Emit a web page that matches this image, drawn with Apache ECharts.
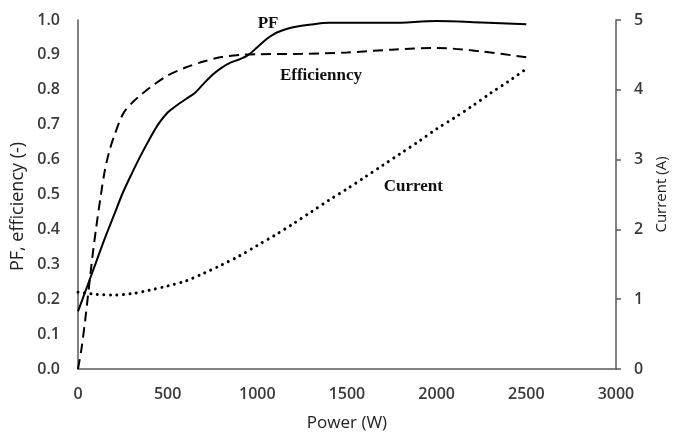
<!DOCTYPE html>
<html>
<head>
<meta charset="utf-8">
<script src="https://cdn.jsdelivr.net/npm/echarts@6/dist/echarts.min.js"></script>
<style>html,body{margin:0;padding:0;background:#fff}#c{width:677px;height:437px}</style>
</head>
<body>
<div id="c"></div>
<script>
const pfPower = [0, 50, 100, 150, 200, 250, 300, 350, 400, 450, 500, 550, 600, 650, 700, 750, 800, 850, 900, 950, 1000, 1050, 1100, 1150, 1200, 1300, 1400, 1500, 1750, 2000, 2250, 2500];
const pfValue = [0.165, 0.235, 0.305, 0.375, 0.44, 0.505, 0.56, 0.612, 0.66, 0.703, 0.735, 0.755, 0.773, 0.79, 0.817, 0.843, 0.863, 0.878, 0.887, 0.9, 0.922, 0.945, 0.962, 0.972, 0.979, 0.987, 0.992, 0.992, 0.992, 0.997, 0.993, 0.988];

const effPower = [0, 20, 40, 60, 80, 100, 125, 150, 175, 200, 250, 300, 350, 400, 500, 600, 700, 800, 900, 1000, 1250, 1500, 1750, 2000, 2250, 2500];
const effValue = [0, 0.06, 0.14, 0.23, 0.32, 0.4, 0.49, 0.57, 0.625, 0.665, 0.73, 0.762, 0.785, 0.806, 0.841, 0.864, 0.881, 0.894, 0.9, 0.902, 0.903, 0.907, 0.915, 0.92, 0.91, 0.893];

const curPower = [0, 100, 200, 300, 400, 500, 600, 700, 800, 900, 1000, 1100, 1200, 1300, 1400, 1500, 1600, 1700, 1800, 1900, 2000, 2100, 2200, 2300, 2400, 2500];
const curValue = [1.1, 1.07, 1.06, 1.08, 1.13, 1.19, 1.26, 1.37, 1.49, 1.62, 1.77, 1.92, 2.08, 2.25, 2.42, 2.58, 2.75, 2.92, 3.09, 3.26, 3.44, 3.6, 3.77, 3.95, 4.12, 4.3];

const seriesNames = ['PF', 'Efficienncy', 'Current'];
const xAxisName = 'Power (W)';
const yLeftName = 'PF, efficiency (-)';
const yRightName = 'Current (A)';

const zip = (xs, ys) => xs.map((x, i) => [x, ys[i]]);

const chart = echarts.init(document.getElementById('c'), null, {renderer: 'canvas'});
const axisFont = {fontFamily: 'Open Sans', fontSize: 16, fontWeight: 600, color: '#3a3a3a'};
const nameFont = {fontFamily: 'Open Sans', fontSize: 16, fontWeight: 'normal', color: '#222'};
const annot = {fontFamily: 'Liberation Serif', fontWeight: 'bold', fontSize: 17, color: '#111'};
chart.setOption({
  animation: false,
  grid: {left: 78, right: 51, top: 20, bottom: 64},
  xAxis: {
    type: 'value', min: 0, max: 3000, interval: 500,
    name: xAxisName, nameLocation: 'middle', nameGap: 46,
    nameTextStyle: Object.assign({}, nameFont, {fontSize: 17}),
    axisLine: {show: true, onZero: false, lineStyle: {color: '#5a5a5a', width: 1.5}},
    axisTick: {show: false},
    splitLine: {show: false},
    axisLabel: Object.assign({margin: 17, formatter: v => String(v)}, axisFont)
  },
  yAxis: [{
    type: 'value', min: 0, max: 1, interval: 0.1, position: 'left',
    name: yLeftName, nameLocation: 'middle', nameGap: 39,
    nameTextStyle: Object.assign({padding: [0, 24, 0, 0]}, nameFont, {fontSize: 18}),
    axisLine: {show: true, lineStyle: {color: '#5a5a5a', width: 1.5}},
    axisTick: {show: false},
    splitLine: {show: false},
    axisLabel: Object.assign({margin: 18, formatter: v => v.toFixed(1)}, axisFont)
  }, {
    type: 'value', min: 0, max: 5, interval: 1, position: 'right',
    name: yRightName, nameLocation: 'middle', nameGap: 31,
    nameTextStyle: Object.assign({}, nameFont, {fontSize: 15}),
    axisLine: {show: true, lineStyle: {color: '#5a5a5a', width: 1.5}},
    axisTick: {show: true, inside: false, length: 5, lineStyle: {color: '#5a5a5a', width: 1.5}},
    splitLine: {show: false},
    axisLabel: Object.assign({margin: 18}, axisFont)
  }],
  series: [{
    name: seriesNames[0], type: 'line', yAxisIndex: 0, showSymbol: false,
    smooth: 0.3, data: zip(pfPower, pfValue),
    lineStyle: {color: '#000', width: 2, type: 'solid'},
    markPoint: {
      symbol: 'rect', symbolSize: 1, itemStyle: {color: 'rgba(0,0,0,0)'},
      label: Object.assign({show: true, formatter: seriesNames[0]}, annot),
      data: [{coord: [1060, 0.99], value: 0}]
    }
  }, {
    name: seriesNames[1], type: 'line', yAxisIndex: 0, showSymbol: false,
    smooth: 0.3, data: zip(effPower, effValue),
    lineStyle: {color: '#000', width: 2, type: [10, 6]},
    markPoint: {
      symbol: 'rect', symbolSize: 1, itemStyle: {color: 'rgba(0,0,0,0)'},
      label: Object.assign({show: true, formatter: seriesNames[1]}, annot),
      data: [{coord: [1355, 0.84], value: 0}]
    }
  }, {
    name: seriesNames[2], type: 'line', yAxisIndex: 1, showSymbol: false,
    smooth: 0.3, data: zip(curPower, curValue),
    lineStyle: {color: '#000', width: 3, type: [0.01, 6.5], cap: 'round'},
    markPoint: {
      symbol: 'rect', symbolSize: 1, itemStyle: {color: 'rgba(0,0,0,0)'},
      label: Object.assign({show: true, formatter: seriesNames[2]}, annot),
      data: [{coord: [1870, 2.61], value: 0}]
    }
  }]
});
</script>
</body>
</html>
